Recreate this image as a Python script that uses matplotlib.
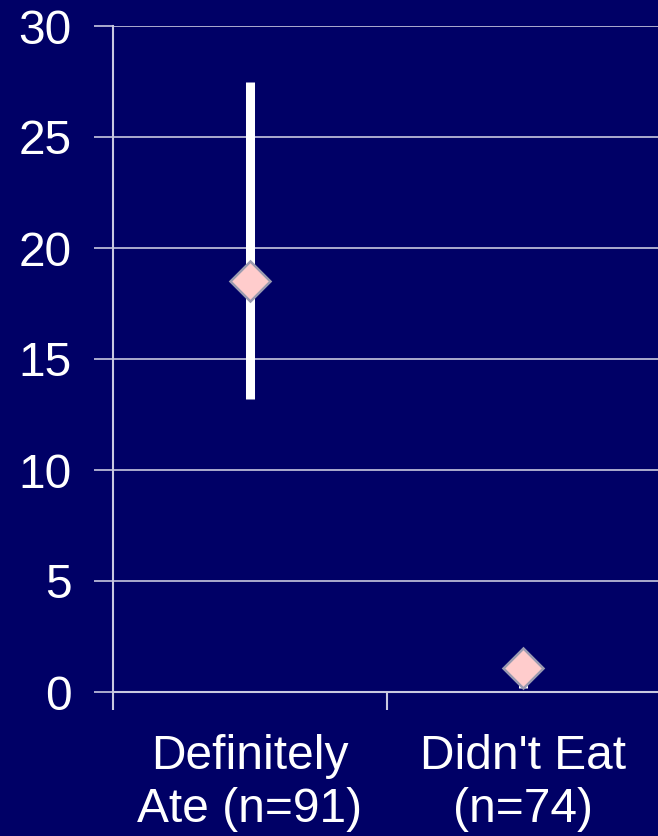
import matplotlib
matplotlib.use("Agg")
import matplotlib.pyplot as plt
from matplotlib.ticker import FixedLocator, NullFormatter, FixedFormatter

categories = ["Definitely\nAte (n=91)", "Didn't Eat\n(n=74)"]
values = [18.5, 1.1]
lower = [13.2, 0.2]
upper = [27.5, 1.5]
yticks = [0, 5, 10, 15, 20, 25, 30]

bg = "#000066"
grid_c = "#c8c8e0"
plt.rcParams["font.family"] = ["Liberation Sans", "DejaVu Sans"]

fig = plt.figure(figsize=(6.58, 8.36), dpi=100, facecolor=bg)
ax = fig.add_axes([113/658, 1-692/836, (660-113)/658, (692-26)/836], facecolor=bg)

x = list(range(1, len(categories)+1))
err_lo = [v - l for v, l in zip(values, lower)]
err_hi = [u - v for v, u in zip(values, upper)]
ax.errorbar(x, values, yerr=[err_lo, err_hi], fmt="none", ecolor="white",
            elinewidth=6.5, capsize=0, zorder=3)
ax.plot(x, values, linestyle="none", marker="D", markersize=20,
        markerfacecolor="#ffcccc", markeredgecolor="#9a9ab0", markeredgewidth=1.8, zorder=4)

ax.set_xlim(0.5, len(categories)+0.5)
ax.set_ylim(0, 30)
ax.set_yticks(yticks)
ax.yaxis.grid(True, color=grid_c, linewidth=1.2)
ax.set_axisbelow(True)

ax.xaxis.set_major_locator(FixedLocator([0.5, 1.5, 2.5]))
ax.xaxis.set_major_formatter(NullFormatter())
ax.xaxis.set_minor_locator(FixedLocator(x))
ax.xaxis.set_minor_formatter(FixedFormatter(categories))
ax.tick_params(axis="x", which="major", length=13, width=1.5, color=grid_c, direction="out")
ax.tick_params(axis="x", which="minor", length=0, pad=30, labelsize=34.5, labelcolor="white")
for lbl in ax.xaxis.get_minorticklabels():
    lbl.set_linespacing(1.25)
ax.tick_params(axis="y", length=14, width=1.2, color=grid_c, pad=16, labelsize=34.5, labelcolor="white")

for s in ["top", "right"]:
    ax.spines[s].set_visible(False)
for s in ["left", "bottom"]:
    ax.spines[s].set_color(grid_c)
    ax.spines[s].set_linewidth(1.5)

fig.savefig("out.png", dpi=100, facecolor=bg)
